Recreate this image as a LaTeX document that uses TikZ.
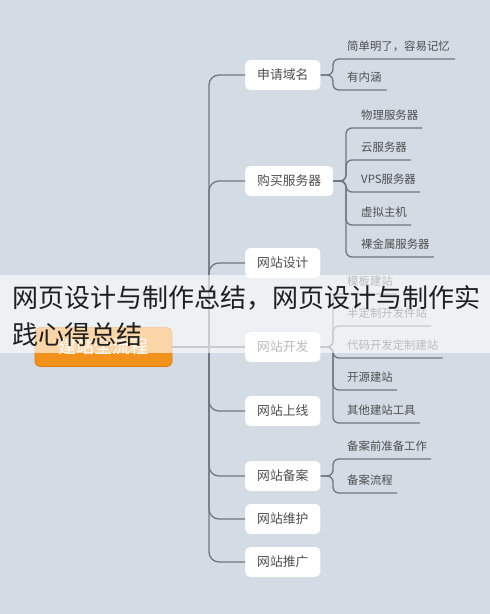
\documentclass[tikz,border=0pt]{standalone}
\usepackage{fontspec}
\setmainfont{Noto Sans CJK SC}
\usetikzlibrary{positioning}

\definecolor{bgblue}{RGB}{211,220,228}
\definecolor{linegray}{RGB}{110,118,128}
\definecolor{textgray}{RGB}{78,78,78}
\definecolor{rootorange}{RGB}{242,146,28}
\definecolor{rootedge}{RGB}{222,124,14}

\begin{document}
\begin{tikzpicture}[x=1pt, y=-1pt,
        conn/.style={draw=linegray, line width=1.3pt},
        trunk/.style={conn, rounded corners=10pt},
        bracket/.style={conn, rounded corners=6pt},
        topic/.style={fill=white, rounded corners=5pt, anchor=west, inner xsep=12pt,
            minimum height=30pt, font=\fontsize{12.8}{14}\selectfont, text=textgray},
        leaf/.style={anchor=south west, inner sep=0pt, text height=9pt, text depth=8pt,
            font=\fontsize{11.4}{13}\selectfont, text=textgray},
        rootbox/.style={fill=rootorange, draw=rootedge, line width=0.8pt, rounded corners=5pt,
            minimum width=137pt, minimum height=39pt, text=white, font=\fontsize{18}{20}\selectfont},
        cover/.style={anchor=west, inner sep=0pt, text=black!88, font=\fontsize{26}{28}\selectfont}]

        \fill[bgblue] (0,0) rectangle (490,614);
        \useasboundingbox (0,0) rectangle (490,614);

        % Root and main topics
        \node[rootbox] (root) at (103.5,347) {建站全流程};
        \node[topic] (domain) at (245,75) {申请域名};
        \node[topic] (server) at (245,181) {购买服务器};
        \node[topic] (design) at (245,263) {网站设计};
        \node[topic] (dev) at (245,347) {网站开发};
        \node[topic] (online) at (245,411) {网站上线};
        \node[topic] (record) at (245,476) {网站备案};
        \node[topic] (maint) at (245,519) {网站维护};
        \node[topic] (promo) at (245,562) {网站推广};

        % Trunk
        \coordinate (hub) at (209,347);
        \draw[conn] (root.east) -- (dev.west);
        \draw[trunk] (hub) |- (domain.west);
        \draw[trunk] (hub) |- (server.west);
        \draw[trunk] (hub) |- (design.west);
        \draw[trunk] (hub) |- (online.west);
        \draw[trunk] (hub) |- (record.west);
        \draw[trunk] (hub) |- (maint.west);
        \draw[trunk] (hub) |- (promo.west);

        % Leaves of 申请域名
        \node[leaf] (d1) at (347,59) {简单明了，容易记忆};
        \node[leaf] (d2) at (347,90) {有内涵};
        \coordinate (bd) at (333,75);
        \draw[bracket] (domain.east) -- (bd) |- ([xshift=5pt]d1.south east);
        \draw[bracket] (domain.east) -- (bd) |- ([xshift=5pt]d2.south east);

        % Leaves of 购买服务器
        \node[leaf] (s1) at (361,128) {物理服务器};
        \node[leaf] (s2) at (361,160) {云服务器};
        \node[leaf] (s3) at (361,192) {VPS服务器};
        \node[leaf] (s4) at (361,225) {虚拟主机};
        \node[leaf] (s5) at (361,257) {裸金属服务器};
        \coordinate (bs) at (346,181);
        \foreach \s in {s1,s2,s3,s4,s5}
            \draw[bracket] (server.east) -- (bs) |- ([xshift=4pt]\s.south east);

        % Leaves of 网站开发
        \node[leaf] (v1) at (347,294) {模板建站};
        \node[leaf] (v2) at (347,326) {半定制开发件站};
        \node[leaf] (v3) at (347,358) {代码开发定制建站};
        \node[leaf] (v4) at (347,390) {开源建站};
        \node[leaf] (v5) at (347,423) {其他建站工具};
        \coordinate (bv) at (333,347);
        \foreach \v in {v1,v2,v3,v4,v5}
            \draw[bracket] (dev.east) -- (bv) |- ([xshift=4pt]\v.south east);

        % Leaves of 网站备案
        \node[leaf] (r1) at (347,459) {备案前准备工作};
        \node[leaf] (r2) at (347,493) {备案流程};
        \coordinate (br) at (333,476);
        \draw[bracket] (record.east) -- (br) |- ([xshift=4pt]r1.south east);
        \draw[bracket] (record.east) -- (br) |- ([xshift=4pt]r2.south east);

        % Caption band over the map
        \fill[white, opacity=0.62] (0,275) rectangle (490,353);
        \node[cover] (cap1) at (12,298) {网页设计与制作总结，网页设计与制作实};
        \node[cover] (cap2) at (12,335) {践心得总结};

\end{tikzpicture}
\end{document}
